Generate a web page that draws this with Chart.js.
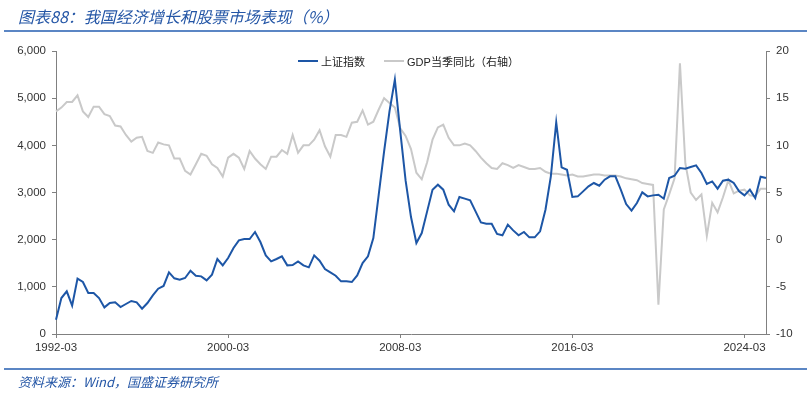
<!DOCTYPE html>
<html>
<head>
<meta charset="utf-8">
<script src="https://cdn.jsdelivr.net/npm/chart.js@4.4.1/dist/chart.umd.min.js"></script>
<style>
  html, body { margin: 0; padding: 0; background: #fff; }
  #wrap { position: relative; width: 811px; height: 394px; overflow: hidden; }
  #chart { position: absolute; left: 0; top: 0; }
  .title { position: absolute; left: 18px; top: 4px; font: italic 16px "Noto Sans CJK SC", sans-serif; color: #2456a6; white-space: nowrap; }
  .rule { position: absolute; left: 4px; width: 803px; height: 2px; background: #5b86c4; }
  .source { position: absolute; left: 18px; top: 372px; font: italic 13px "Noto Sans CJK SC", sans-serif; color: #2456a6; white-space: nowrap; }
  .legend { position: absolute; top: 53px; left: 298px; font: 11px "Liberation Sans", "Noto Sans CJK SC", sans-serif; color: #222; white-space: nowrap; }
  .legend span { display: inline-block; vertical-align: middle; }
  .swatch { width: 20px; height: 2px; margin-right: 3px; }
</style>
</head>
<body>
<div id="wrap">
  <canvas id="chart" width="811" height="394"></canvas>
  <div class="title">图表88：我国经济增长和股票市场表现（%）</div>
  <div class="rule" style="top:30px"></div>
  <div class="legend">
    <span class="swatch" style="background:#1d56a6"></span><span>上证指数</span>
    <span class="swatch" style="background:#c9c9c9;margin-left:16px"></span><span>GDP当季同比（右轴）</span>
  </div>
  <div class="rule" style="top:368px"></div>
  <div class="source">资料来源：Wind，国盛证券研究所</div>
</div>
<script>
// quarterly categories 1992-03 .. 2025-03
const quarters = []
for (let y = 1992; y <= 2025; y++) {
    for (const m of ['03', '06', '09', '12']) {
        if (y === 2025 && m !== '03') break
        quarters.push(y + '-' + m)
    }
}

// 上证指数 (quarterly average, left axis)
const sseIndex = [
    303, 763, 904, 600, 1173, 1102, 869, 869,
    763, 564, 657, 671, 572, 636, 700, 671,
    536, 657, 819, 961, 1018, 1306, 1180, 1152,
    1187, 1342, 1236, 1222, 1137, 1258, 1590, 1455,
    1611, 1823, 1985, 2014, 2014, 2163, 1950, 1667,
    1540, 1590, 1646, 1455, 1460, 1540, 1455, 1413,
    1667, 1554, 1378, 1307, 1236, 1116, 1116, 1102,
    1243, 1505, 1646, 2035, 2954, 3872, 4720, 5392,
    4300, 3250, 2480, 1929, 2141, 2600, 3060, 3166,
    3060, 2742, 2600, 2905, 2870, 2833, 2600, 2367,
    2339, 2339, 2120, 2092, 2318, 2197, 2092, 2163,
    2049, 2049, 2176, 2635, 3342, 4486, 3532, 3483,
    2905, 2918, 3024, 3130, 3201, 3144, 3272, 3342,
    3342, 3060, 2756, 2615, 2777, 3003, 2918, 2939,
    2954, 2869, 3307, 3356, 3519, 3505, 3540, 3575,
    3413, 3180, 3235, 3081, 3250, 3272, 3201, 3024,
    2939, 3060, 2883, 3335, 3307
]

// GDP当季同比 (%, right axis)
const gdpYoy = [
    13.6, 14.0, 14.6, 14.6, 15.3, 13.6, 13.0, 14.1,
    14.1, 13.3, 13.1, 12.1, 12.0, 11.1, 10.4, 10.8,
    10.9, 9.4, 9.2, 10.3, 10.1, 10.0, 8.6, 8.6,
    7.3, 6.9, 8.0, 9.1, 8.9, 8.0, 7.6, 6.7,
    8.7, 9.1, 8.7, 7.5, 9.4, 8.6, 8.0, 7.5,
    8.8, 8.8, 9.5, 9.1, 11.1, 9.2, 10.0, 10.0,
    10.6, 11.6, 9.9, 8.8, 11.1, 11.1, 10.9, 12.4,
    12.5, 13.7, 12.2, 12.5, 13.8, 15.0, 14.5, 14.0,
    11.8, 11.0, 9.6, 7.1, 6.4, 8.2, 10.6, 11.9,
    12.2, 10.8, 10.0, 10.0, 10.2, 10.0, 9.4, 8.7,
    8.1, 7.6, 7.5, 8.1, 7.9, 7.6, 7.9, 7.7,
    7.5, 7.5, 7.6, 7.2, 7.0, 7.0, 6.9, 6.8,
    6.9, 6.7, 6.7, 6.8, 6.9, 6.9, 6.8, 6.8,
    6.8, 6.7, 6.5, 6.4, 6.3, 6.0, 5.9, 5.8,
    -6.9, 3.2, 4.8, 6.5, 18.7, 8.1, 5.0, 4.2,
    4.8, 0.4, 3.9, 2.9, 4.5, 6.3, 4.9, 5.2,
    5.3, 4.7, 4.6, 5.4, 5.4
]

const blue = '#1d56a6'
const gray = '#c9c9c9'
const axisColor = '#808080'
const tickFont = { family: 'Liberation Sans, Arial, sans-serif', size: 11.5 }

const ctx = document.getElementById('chart').getContext('2d')
new Chart(ctx, {
    type: 'line',
    data: {
        labels: quarters,
        datasets: [{
            label: '上证指数',
            data: sseIndex,
            yAxisID: 'yLeft',
            borderColor: blue,
            borderWidth: 2,
            pointRadius: 0,
            tension: 0
        }, {
            label: 'GDP当季同比（右轴）',
            data: gdpYoy,
            yAxisID: 'yRight',
            borderColor: gray,
            borderWidth: 2,
            pointRadius: 0,
            tension: 0
        }]
    },
    options: {
        responsive: false,
        animation: false,
        devicePixelRatio: 1,
        layout: { padding: { top: 51, left: 0, right: 0, bottom: 0 } },
        plugins: { legend: { display: false }, tooltip: { enabled: false } },
        scales: {
            x: {
                type: 'category',
                offset: false,
                afterFit: s => { s.height = 60 },
                border: { display: true, color: axisColor },
                grid: {
                    drawOnChartArea: false,
                    tickLength: 4,
                    color: c => (c.index % 32 === 0 ? axisColor : 'rgba(0,0,0,0)')
                },
                ticks: {
                    autoSkip: false,
                    maxRotation: 0,
                    padding: 3,
                    color: '#333',
                    font: tickFont,
                    callback: function (v, i) { return i % 32 === 0 ? quarters[i] : '' }
                }
            },
            yLeft: {
                position: 'left',
                min: 0,
                max: 6000,
                afterFit: s => { s.width = 56 },
                border: { display: true, color: axisColor },
                grid: { drawOnChartArea: false, tickLength: 4, color: axisColor },
                ticks: {
                    stepSize: 1000,
                    padding: 6,
                    color: '#333',
                    font: tickFont,
                    callback: v => v.toLocaleString('en-US')
                }
            },
            yRight: {
                position: 'right',
                min: -10,
                max: 20,
                afterFit: s => { s.width = 45 },
                border: { display: true, color: axisColor },
                grid: { drawOnChartArea: false, tickLength: 4, color: axisColor },
                ticks: {
                    stepSize: 5,
                    padding: 6,
                    color: '#333',
                    font: tickFont
                }
            }
        }
    }
})
</script>
</body>
</html>
